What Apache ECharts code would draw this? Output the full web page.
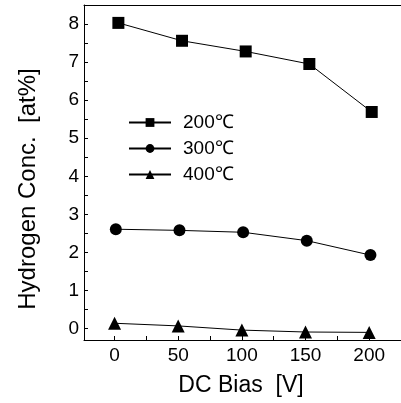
<!DOCTYPE html>
<html>
<head>
<meta charset="utf-8">
<script src="https://cdn.jsdelivr.net/npm/echarts@6/dist/echarts.min.js"></script>
<style>
  html, body { margin: 0; padding: 0; background: #fff; }
  #chart { width: 401px; height: 403px; }
</style>
</head>
<body>
<div id="chart"></div>
<script>
const seriesNames = ["200℃", "300℃", "400℃"];
const bias200 = [3, 53, 103, 153, 202];
const conc200 = [8.03, 7.56, 7.28, 6.95, 5.69];
const bias300 = [1, 51, 101, 151, 201];
const conc300 = [2.61, 2.58, 2.53, 2.31, 1.93];
const bias400 = [0, 50, 100, 150, 200];
const conc400 = [0.14, 0.07, -0.04, -0.09, -0.1];
const xLabelValues = [0, 50, 100, 150, 200];
const xTickValues = [0, 25, 50, 75, 100, 125, 150, 175, 200];
const yLabelValues = [0, 1, 2, 3, 4, 5, 6, 7, 8];
const yTickValues = [0, 0.5, 1, 1.5, 2, 2.5, 3, 3.5, 4, 4.5, 5, 5.5, 6, 6.5, 7, 7.5, 8];

const FONT = '"Liberation Sans", Arial, sans-serif';

function pairs(xs, ys) {
  return xs.map((x, i) => [x, ys[i]]);
}

const chart = echarts.init(document.getElementById("chart"));

function lineSeries(name, symbol, size, xs, ys) {
  return {
    name: name,
    type: "line",
    xAxisIndex: 0,
    data: pairs(xs, ys),
    symbol: symbol,
    symbolSize: size,
    lineStyle: { color: "#000", width: 1 },
    itemStyle: { color: "#000" },
    animation: false,
  };
}

const axisLineStyle = { color: "#000", width: 1 };

chart.setOption({
  backgroundColor: "#fff",
  animation: false,
  grid: {
    left: 84,
    right: -2,
    top: 5,
    bottom: 63,
  },
  legend: {
    orient: "vertical",
    left: 128,
    top: 113,
    padding: 0,
    itemWidth: 42,
    itemHeight: 11,
    itemGap: 7,
    textStyle: { fontFamily: FONT, fontSize: 19, color: "#000", padding: [0, 0, 0, 7] },
    data: seriesNames,
  },
  xAxis: [
    {
      type: "value",
      min: -24,
      max: 225,
      splitLine: { show: false },
      axisLine: { onZero: false, lineStyle: axisLineStyle },
      axisTick: { inside: true, length: 4, customValues: xTickValues, lineStyle: { color: "#000" } },
      axisLabel: {
        customValues: xLabelValues,
        margin: 6,
        fontFamily: FONT,
        fontSize: 19,
        color: "#000",
      },
    },
    {
      // top frame line only
      type: "value",
      position: "top",
      min: -24,
      max: 225,
      splitLine: { show: false },
      axisLine: { onZero: false, lineStyle: axisLineStyle },
      axisTick: { show: false },
      axisLabel: { show: false },
    },
  ],
  yAxis: {
    type: "value",
    min: -0.3,
    max: 8.5,
    splitLine: { show: false },
    axisLine: { onZero: false, lineStyle: axisLineStyle },
    axisTick: { inside: true, length: 4, customValues: yTickValues, lineStyle: { color: "#000" } },
    axisLabel: {
      customValues: yLabelValues,
      margin: 5,
      fontFamily: FONT,
      fontSize: 19,
      color: "#000",
    },
  },
  graphic: [
    {
      type: "text",
      x: 28,
      y: 189,
      rotation: Math.PI / 2,
      style: {
        text: "Hydrogen Conc.  [at%]",
        fontFamily: FONT,
        fontSize: 24,
        fill: "#000",
        align: "center",
        verticalAlign: "middle",
      },
    },
    {
      type: "text",
      x: 241,
      y: 386,
      style: {
        text: "DC Bias  [V]",
        fontFamily: FONT,
        fontSize: 23,
        fill: "#000",
        align: "center",
        verticalAlign: "middle",
      },
    },
  ],
  series: [
    lineSeries(seriesNames[0], "rect", 12, bias200, conc200),
    lineSeries(seriesNames[1], "circle", 12, bias300, conc300),
    lineSeries(seriesNames[2], "triangle", 13, bias400, conc400),
  ],
});
</script>
</body>
</html>
